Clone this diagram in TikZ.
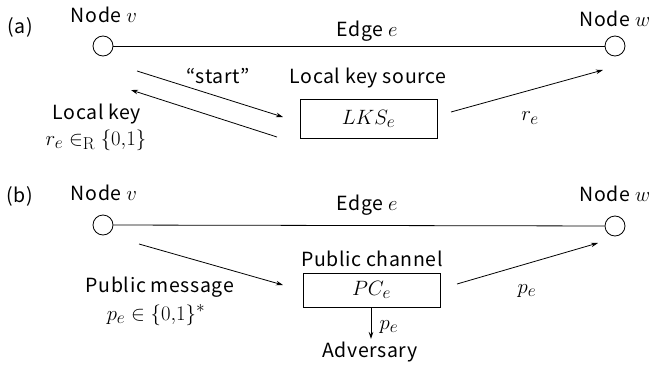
\documentclass[tikz,border=0pt]{standalone}
\usepackage[no-math]{fontspec}
\setmainfont[LetterSpace=3]{Noto Sans CJK JP}
\DeclareMathSizes{19.5}{22.5}{16}{12}
\usetikzlibrary{arrows.meta}
\begin{document}
\begin{tikzpicture}[x=1pt,y=-1pt,
  every node/.style={font=\fontsize{19.5}{22}\selectfont, inner sep=0pt},
  vert/.style={circle, draw, line width=0.8pt, minimum size=20pt, fill=white},
  boxn/.style={draw, line width=0.8pt, minimum width=137pt},
  lnk/.style={line width=0.8pt},
  arr/.style={line width=0.8pt, -{Stealth[length=7pt,width=4.5pt]}}]
\useasboundingbox (0,0) rectangle (654,375);
% ---------- (a) ----------
\node (la) at (20,27) {(a)};
\node (nva) at (104,15) {Node $v$};
\node (nwa) at (615,19) {Node $w$};
\node (ea) at (367,31) {Edge $e$};
\node[vert] (va) at (103,46) {};
\node[vert] (wa) at (615,46) {};
\draw[lnk] (va) -- (wa);
\node[boxn, minimum height=39pt] (lks) at (368.5,118.5) {$LKS_e$};
\node (lkss) at (368,78) {Local key source};
\coordinate (s1) at (137,71);
\coordinate (s2) at (283,117);
\coordinate (k1) at (277,137);
\coordinate (k2) at (131,90);
\coordinate (r1) at (451,112);
\coordinate (r2) at (603,70);
\draw[arr] (s1) -- (s2);
\draw[arr] (k1) -- (k2);
\draw[arr] (r1) -- (r2);
\node (st) at (218,76) {``start''};
\node (lk) at (97,114) {Local key};
\node (lkv) at (96,140) {$r_e \in_{\mathrm{R}} \{0{,}1\}$};
\node (re) at (530,118) {$r_e$};
% ---------- (b) ----------
\node (lb) at (20,196) {(b)};
\node (nvb) at (104,193) {Node $v$};
\node (nwb) at (615,194) {Node $w$};
\node (eb) at (367,205) {Edge $e$};
\node[vert] (vb) at (103,225) {};
\node[vert] (wb) at (615,226) {};
\draw[lnk] (vb) -- (wb);
\node[boxn, minimum height=34pt] (pc) at (371.5,290) {$PC_e$};
\node (pcs) at (372,259) {Public channel};
\coordinate (m1) at (139,244);
\coordinate (m2) at (283,285);
\coordinate (q1) at (457,284);
\coordinate (q2) at (598,243);
\coordinate (d2) at (371,339);
\draw[arr] (m1) -- (m2);
\draw[arr] (q1) -- (q2);
\draw[arr] (pc.south -| d2) -- (d2);
\node (pm) at (160,287) {Public message};
\node (pmv) at (156,315) {$p_e \in \{0{,}1\}^{*}$};
\node (pe) at (527,291) {$p_e$};
\node (pe2) at (389,327) {$p_e$};
\node (adv) at (370,352) {Adversary};
\end{tikzpicture}
\end{document}
